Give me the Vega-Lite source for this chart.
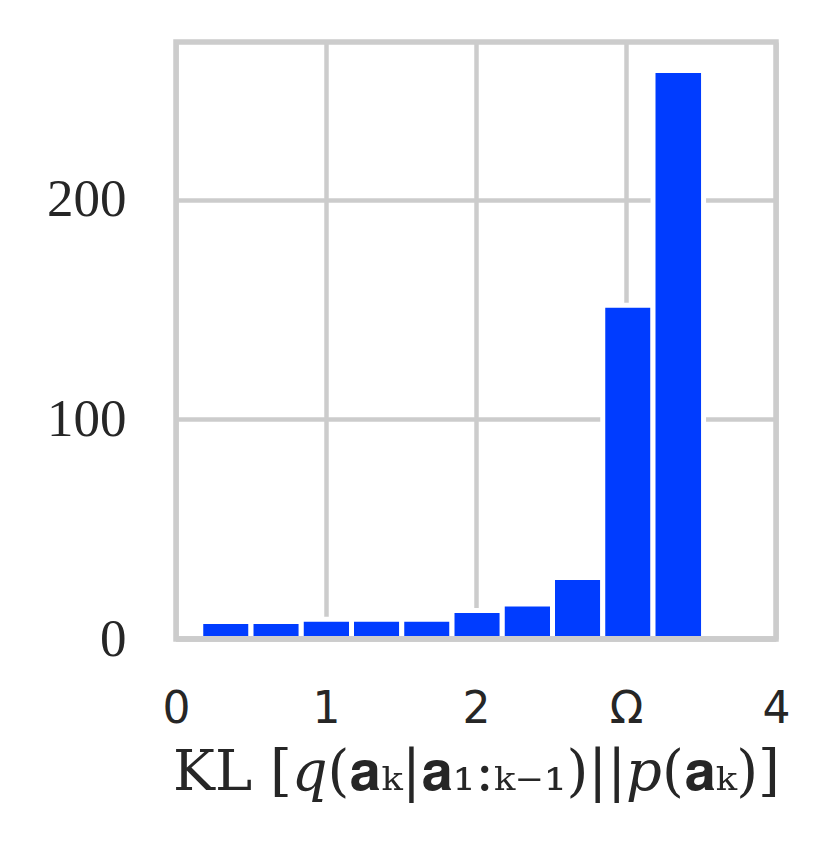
{
  "$schema": "https://vega.github.io/schema/vega-lite/v6.json",
  "autosize": "none",
  "width": 600,
  "height": 597,
  "padding": {"left": 176, "top": 42, "right": 57, "bottom": 220},
  "background": "white",
  "config": {
    "view": {"stroke": "#cccccc", "strokeWidth": 5.5},
    "axis": {
      "gridColor": "#cccccc",
      "gridWidth": 4.5,
      "ticks": false,
      "domain": false,
      "labelColor": "#262626",
      "titleColor": "#262626",
      "labelFlush": false
    }
  },
  "data": {
    "values": [
      {"bin_start": 0.165, "bin_end": 0.500, "n": 8},
      {"bin_start": 0.500, "bin_end": 0.835, "n": 8},
      {"bin_start": 0.835, "bin_end": 1.170, "n": 9},
      {"bin_start": 1.170, "bin_end": 1.505, "n": 9},
      {"bin_start": 1.505, "bin_end": 1.840, "n": 9},
      {"bin_start": 1.840, "bin_end": 2.175, "n": 13},
      {"bin_start": 2.175, "bin_end": 2.510, "n": 16},
      {"bin_start": 2.510, "bin_end": 2.845, "n": 28},
      {"bin_start": 2.845, "bin_end": 3.180, "n": 152},
      {"bin_start": 3.180, "bin_end": 3.517, "n": 259}
    ]
  },
  "layer": [
    {
      "mark": {"type": "bar", "orient": "vertical", "fill": "#003cff", "stroke": "#ffffff", "strokeWidth": 5},
      "encoding": {
        "x": {
          "field": "bin_start",
          "type": "quantitative",
          "scale": {"domain": [0, 4], "nice": false, "zero": false, "padding": 0},
          "axis": {
            "values": [0, 1, 2, 3, 4],
            "labelExpr": "datum.value == 3 ? 'Ω' : datum.label",
            "labelFont": "DejaVu Sans",
            "labelFontSize": 44,
            "labelPadding": 48,
            "title": "KL [𝑞(𝐚ₖ|𝐚₁:ₖ₋₁)||𝑝(𝐚ₖ)]",
            "titleFont": "DejaVu Serif",
            "titleFontWeight": "normal",
            "titleFontSize": 56,
            "titlePadding": 14
          }
        },
        "x2": {"field": "bin_end"},
        "y": {
          "field": "n",
          "type": "quantitative",
          "scale": {"domain": [0, 271.95], "nice": false, "padding": 0},
          "axis": {
            "values": [0, 100, 200],
            "labelFont": "Liberation Serif",
            "labelFontSize": 53,
            "labelPadding": 50,
            "title": null
          }
        }
      }
    },
    {
      "mark": {"type": "rule", "color": "#cccccc", "strokeWidth": 5.5},
      "encoding": {"y": {"datum": 0}}
    }
  ]
}
